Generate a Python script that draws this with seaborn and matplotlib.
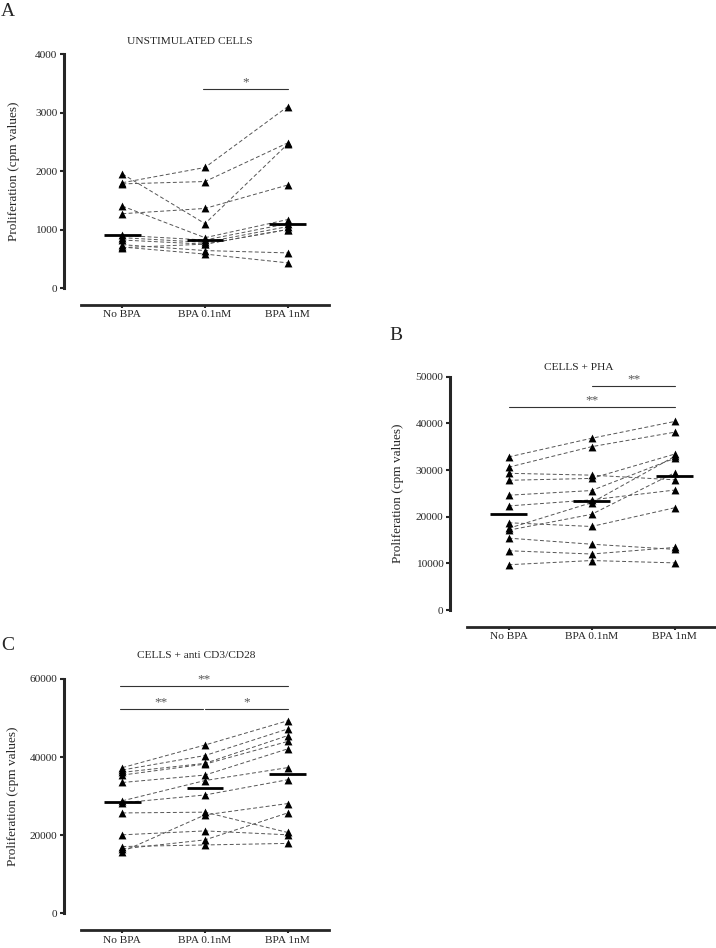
import numpy as np
import pandas as pd
import matplotlib
matplotlib.use("Agg")
import matplotlib.pyplot as plt
import seaborn as sns

groups = ["No BPA", "BPA 0.1nM", "BPA 1nM"]

# A - unstimulated cells, one entry per donor
unstim_no_bpa = [1800, 1780, 1950, 1270, 1400, 900, 860, 820, 740, 700, 690]
unstim_bpa_01 = [2060, 1820, 1100, 1360, 860, 820, 780, 750, 640, 580, 750]
unstim_bpa_1 = [3100, 2480, 2460, 1760, 1170, 1100, 1050, 1000, 600, 430, 1000]

# B - cells + PHA
pha_no_bpa = [32800, 30600, 29300, 27800, 24600, 22300, 18700, 17500, 17100, 15400, 12700, 9700]
pha_bpa_01 = [36800, 35000, 28900, 28200, 25600, 23600, 17900, 23000, 20500, 14100, 12000, 10600]
pha_bpa_1 = [40400, 38100, 27900, 33400, 32500, 25700, 21900, 32900, 29400, 13000, 13400, 10100]

# C - cells + anti CD3/CD28
cd3_no_bpa = [37300, 36700, 36100, 35400, 33500, 28800, 28300, 25700, 15800, 20100, 16500, 17100]
cd3_bpa_01 = [43100, 40400, 38400, 38200, 35400, 34000, 30300, 25900, 25200, 21100, 18800, 17500]
cd3_bpa_1 = [49300, 47200, 45500, 44000, 42100, 37300, 34200, 20700, 28100, 20100, 25700, 17900]

# significance bars: (from group, to group, height, label)
unstim_sig = [(0.98, 2.0, 3400, "*")]
pha_sig = [(1.01, 2.01, 48000, "**"), (0.0, 2.01, 43500, "**")]
cd3_sig = [(-0.03, 2.01, 58300, "**"), (-0.03, 0.97, 52300, "**"), (1.0, 2.01, 52300, "*")]


def to_long(no_bpa, bpa_01, bpa_1):
    rows = []
    for subj, vals in enumerate(zip(no_bpa, bpa_01, bpa_1)):
        for g, v in zip(groups, vals):
            rows.append({"subject": subj, "group": g, "pos": groups.index(g), "value": v})
    return pd.DataFrame(rows)


def draw_panel(ax, df, ymax, step, sig):
    sns.lineplot(data=df, x="pos", y="value", units="subject", estimator=None,
                 color="#555555", lw=0.7, linestyle=(0, (4, 2.5)), ax=ax, legend=False)
    sns.scatterplot(data=df, x="pos", y="value", marker="^", color="black", s=32,
                    linewidth=0, ax=ax, legend=False, zorder=3)
    med = df.groupby("pos")["value"].median()
    ax.hlines(med.values, med.index - 0.22, med.index + 0.22, color="black", lw=2, zorder=4)
    for x0, x1, y, label in sig:
        ax.plot([x0, x1], [y, y], color="#333333", lw=0.8)
        ax.text((x0 + x1) / 2, y + ymax * 0.003, label, ha="center", va="bottom",
                fontsize=9.5, color="#555555")
    ax.set_xlim(-0.5, 2.5)
    ax.set_ylim(0, ymax)
    ax.set_yticks(np.arange(0, ymax + 1, step))
    ax.set_xticks(range(3))
    ax.set_xticklabels(groups)
    ax.set_xlabel("")
    ax.set_ylabel("")
    sns.despine(ax=ax, offset=12)
    ax.spines["left"].set_bounds(0, ymax)
    ax.spines["left"].set_linewidth(2.2)
    ax.spines["bottom"].set_linewidth(2.0)
    ax.tick_params(axis="y", length=3, width=1.5, pad=2, labelsize=8.2)
    ax.tick_params(axis="x", length=2, width=1.5, pad=2, labelsize=8.2)


sns.set_style("ticks")
plt.rcParams["font.family"] = ["Liberation Serif", "DejaVu Serif"]

W, H = 716, 948
fig = plt.figure(figsize=(W / 100, H / 100), dpi=100)

ax_a = fig.add_axes([81 / W, 1 - 288 / H, 248 / W, 234 / H])
ax_b = fig.add_axes([467 / W, 1 - 610 / H, 249 / W, 233.3 / H])
ax_c = fig.add_axes([81 / W, 1 - 913.3 / H, 248 / W, 234.3 / H])

draw_panel(ax_a, to_long(unstim_no_bpa, unstim_bpa_01, unstim_bpa_1), 4000, 1000, unstim_sig)
draw_panel(ax_b, to_long(pha_no_bpa, pha_bpa_01, pha_bpa_1), 50000, 10000, pha_sig)
draw_panel(ax_c, to_long(cd3_no_bpa, cd3_bpa_01, cd3_bpa_1), 60000, 20000, cd3_sig)

# titles, y labels and panel letters
fig.text(190 / W, 1 - 42 / H, "UNSTIMULATED CELLS", ha="center", va="center", fontsize=8.2)
fig.text(579 / W, 1 - 367 / H, "CELLS + PHA", ha="center", va="center", fontsize=8.2)
fig.text(196 / W, 1 - 656 / H, "CELLS + anti CD3/CD28", ha="center", va="center", fontsize=8.2)

for x, y in [(14, 171), (398, 493), (13, 796)]:
    fig.text(x / W, 1 - y / H, "Proliferation (cpm values)", rotation=90,
             ha="center", va="center", fontsize=9.5)

for letter, x, y in [("A", 8, 12), ("B", 396, 335), ("C", 8, 646)]:
    fig.text(x / W, 1 - y / H, letter, ha="center", va="center", fontsize=14)

fig.savefig("out.png", dpi=100)
